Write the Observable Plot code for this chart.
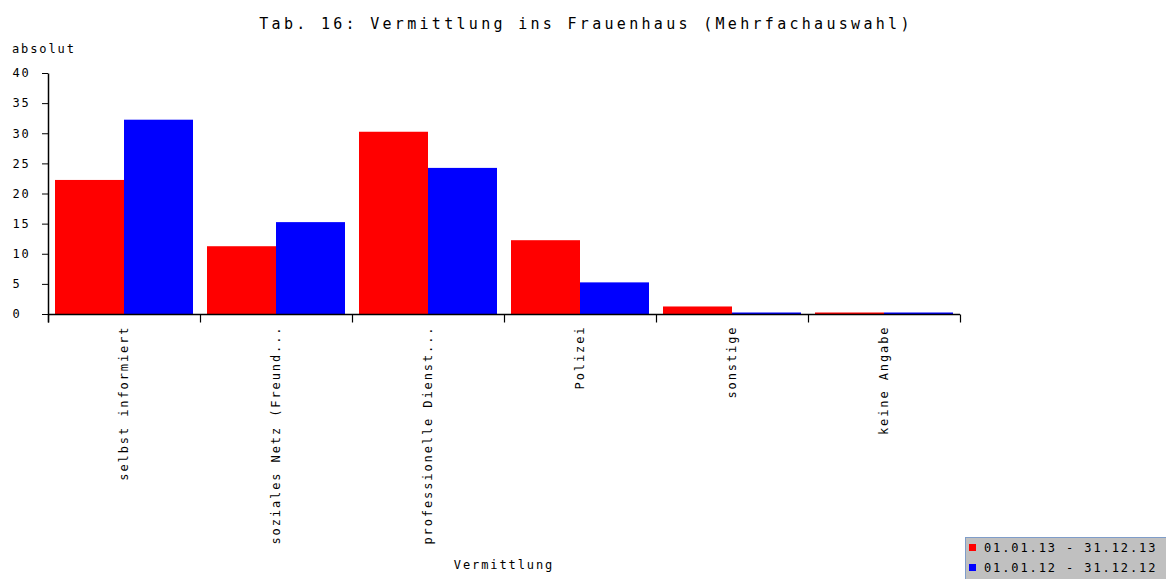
<!DOCTYPE html>
<html>
<head>
<meta charset="utf-8">
<script src="https://cdn.jsdelivr.net/npm/d3@7"></script>
<script src="https://cdn.jsdelivr.net/npm/@observablehq/plot@0.6"></script>
<style>
  html, body { margin: 0; padding: 0; background: #fff; }
  #wrap { position: relative; width: 1166px; height: 579px; overflow: hidden; font-family: "DejaVu Sans Mono", monospace; color: #000; }
  #title { position: absolute; left: 0; width: 1172px; top: 15px; text-align: center; font-size: 15px; letter-spacing: 3.3px; white-space: nowrap; }
  #ylab { position: absolute; left: 12px; top: 42px; font-size: 12px; letter-spacing: 1.9px; }
  #xlab { position: absolute; left: 0; width: 1008px; top: 558px; text-align: center; font-size: 12px; letter-spacing: 1.9px; }
  #chart { position: absolute; left: 0; top: 0; }
  #legend { position: absolute; left: 965px; top: 537px; width: 210px; height: 50px; background: #c0c0c0; border: 1px solid #7f9dc9; font-size: 12px; letter-spacing: 1.9px; }
  #legend .row { position: absolute; left: 3px; height: 16px; line-height: 16px; white-space: nowrap; }
  #legend .sw { display: inline-block; width: 7px; height: 7px; margin-right: 8px; vertical-align: 1px; }
</style>
</head>
<body>
<div id="wrap">
  <div id="chart"></div>
  <div id="title"></div>
  <div id="ylab"></div>
  <div id="xlab"></div>
  <div id="legend"></div>
</div>
<script>
const titleText = "Tab. 16: Vermittlung ins Frauenhaus (Mehrfachauswahl)";
const yLabel = "absolut";
const xLabel = "Vermittlung";
const categories = ["selbst informiert", "soziales Netz (Freund...", "professionelle Dienst...", "Polizei", "sonstige", "keine Angabe"];
const seriesNames = ["01.01.13 - 31.12.13", "01.01.12 - 31.12.12"];
const seriesColors = ["#ff0000", "#0000ff"];
const values2013 = [22, 11, 30, 12, 1, 0];
const values2012 = [32, 15, 24, 5, 0, 0];
const yTicks = [0, 5, 10, 15, 20, 25, 30, 35, 40];

document.getElementById("title").textContent = titleText;
document.getElementById("ylab").textContent = yLabel;
document.getElementById("xlab").textContent = xLabel;

const table = [];
categories.forEach((c, i) => {
  table.push({cat: c, series: seriesNames[0], value: values2013[i]});
  table.push({cat: c, series: seriesNames[1], value: values2012[i]});
});

const W = 1166, H = 579, MT = 73, MB = 265;
const frameH = H - MT - MB;
const tickSymbol = { draw(ctx) { ctx.moveTo(0, 0); ctx.lineTo(0, 8); } };
const axisSymbol = { draw(ctx) { ctx.moveTo(0, 8); ctx.lineTo(0, -frameH); } };

const chart = Plot.plot({
  width: W,
  height: H,
  marginLeft: 48,
  marginRight: 206,
  marginTop: MT,
  marginBottom: MB,
  style: { fontFamily: "DejaVu Sans Mono", fontSize: "12px", letterSpacing: "1.9px", color: "#000", background: "transparent" },
  fx: { domain: categories, padding: 0, label: null },
  x: { domain: seriesNames, paddingInner: 0, paddingOuter: 0.1, axis: null },
  y: { domain: [0, 40], label: null },
  color: { domain: seriesNames, range: seriesColors },
  marks: [
    Plot.barY(table, { fx: "cat", x: "series", y: "value", fill: "series", insetTop: -1.5 }),
    Plot.axisY({ ticks: yTicks, tickSize: 6, tickPadding: 30, textAnchor: "start", label: null, stroke: "#000" }),
    Plot.axisFx({ anchor: "bottom", tickSize: 0, tickPadding: 11, tickRotate: -90, label: null }),
    Plot.ruleY([0], { stroke: "#000", strokeWidth: 1.5 }),
    Plot.dot([0], { frameAnchor: "bottom-left", symbol: tickSymbol, stroke: "#000", fill: "none", strokeWidth: 1.2 }),
    Plot.dot([{cat: categories[0]}], { fx: "cat", frameAnchor: "bottom-left", symbol: axisSymbol, stroke: "#000", fill: "none", strokeWidth: 1.5 }),
    Plot.dot([{cat: categories[categories.length - 1]}], { fx: "cat", frameAnchor: "bottom-right", symbol: tickSymbol, stroke: "#000", fill: "none", strokeWidth: 1.2 })
  ]
});
document.getElementById("chart").appendChild(chart);

const legend = document.getElementById("legend");
seriesNames.forEach((s, i) => {
  const row = document.createElement("div");
  row.className = "row";
  row.style.top = (2 + i * 20) + "px";
  const sw = document.createElement("span");
  sw.className = "sw";
  sw.style.background = seriesColors[i];
  row.appendChild(sw);
  row.appendChild(document.createTextNode(s));
  legend.appendChild(row);
});
</script>
</body>
</html>
